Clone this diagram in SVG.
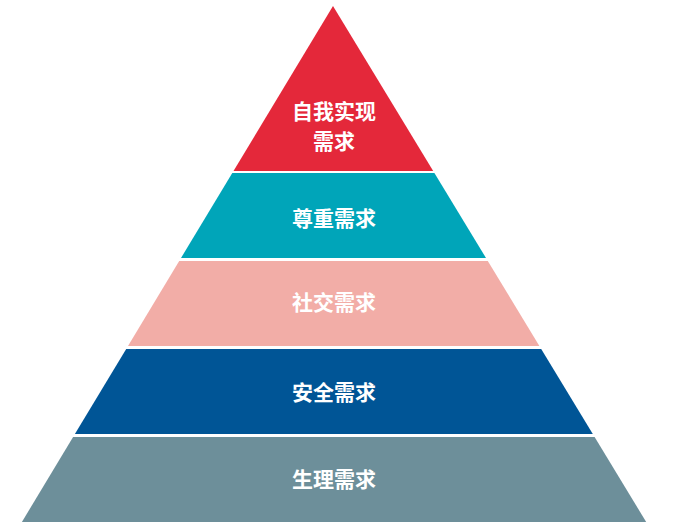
<svg xmlns="http://www.w3.org/2000/svg" width="676" height="532" viewBox="0 0 676 532">
<style>
.lbl{font-family:"Noto Sans CJK SC","Noto Sans",sans-serif;font-weight:bold;font-size:21px;fill:#ffffff;text-anchor:middle;dominant-baseline:central}
</style>
<rect width="676" height="532" fill="#ffffff"/>
<g id="layer-self">
<polygon points="333,6 433.2,171 233.5,171" fill="#E4283A"/>
<text class="lbl" x="334" y="110">自我实现</text>
<text class="lbl" x="334" y="140">需求</text>
</g>
<g id="layer-esteem">
<polygon points="232.3,173 434.4,173 486,258 181,258" fill="#00A5B9"/>
<text class="lbl" x="334" y="217">尊重需求</text>
</g>
<g id="layer-social">
<polygon points="179.2,261 487.8,261 539.4,346 128,346" fill="#F2ADA7"/>
<text class="lbl" x="334" y="301">社交需求</text>
</g>
<g id="layer-safety">
<polygon points="126.2,349 541.2,349 592.8,434 74.9,434" fill="#005596"/>
<text class="lbl" x="334" y="391">安全需求</text>
</g>
<g id="layer-physio">
<polygon points="73.1,437 594.6,437 646.2,522 21.9,522" fill="#6D8F9A"/>
<text class="lbl" x="334" y="478">生理需求</text>
</g>
<g id="connectors"></g>
</svg>
